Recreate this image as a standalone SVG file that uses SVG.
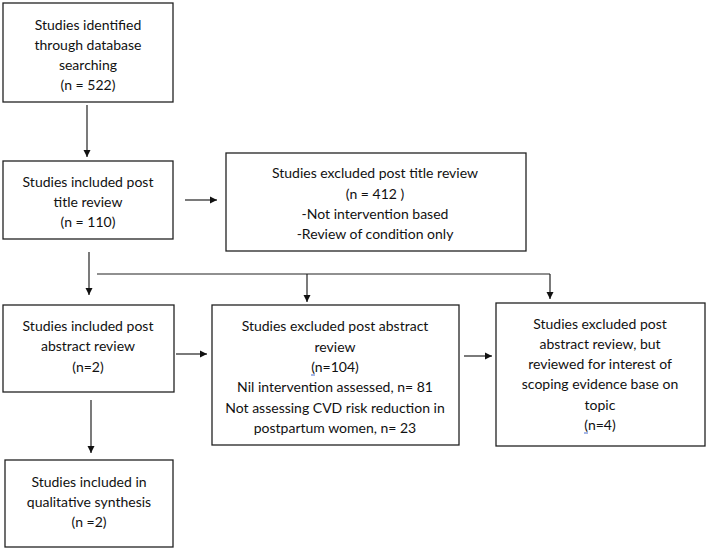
<svg xmlns="http://www.w3.org/2000/svg" width="708" height="551" viewBox="0 0 708 551">
<style>
.box{fill:#fff;stroke:#222;stroke-width:1.3}
.t{font-family:Lato,"Liberation Sans",sans-serif;font-size:14px;fill:#111;text-anchor:middle}
.c{stroke:#222;stroke-width:1.2;fill:none}
</style>
<defs>
<marker id="ah" markerWidth="8" markerHeight="8" refX="7" refY="4" orient="auto" markerUnits="userSpaceOnUse">
<path d="M0,0.5 L7,4 L0,7.5 Z" fill="#111"/>
</marker>
</defs>
<rect width="708" height="551" fill="#fff"/>
<g id="connectors">
<line class="c" x1="87" y1="105" x2="87" y2="157" marker-end="url(#ah)"/>
<line class="c" x1="185" y1="200" x2="217" y2="200" marker-end="url(#ah)"/>
<line class="c" x1="89" y1="252" x2="89" y2="295" marker-end="url(#ah)"/>
<line class="c" x1="97" y1="274" x2="550" y2="274"/>
<line class="c" x1="307" y1="274" x2="307" y2="302" marker-end="url(#ah)"/>
<line class="c" x1="550" y1="274" x2="550" y2="299" marker-end="url(#ah)"/>
<line class="c" x1="176" y1="354" x2="207" y2="354" marker-end="url(#ah)"/>
<line class="c" x1="464" y1="356" x2="492" y2="356" marker-end="url(#ah)"/>
<line class="c" x1="91" y1="400" x2="91" y2="453" marker-end="url(#ah)"/>
</g>
<g id="identified">
<rect class="box" x="3" y="3" width="170" height="99"/>
<text class="t" x="88" y="30">Studies identified</text>
<text class="t" x="88" y="50">through database</text>
<text class="t" x="88" y="70">searching</text>
<text class="t" x="88" y="90">(n = 522)</text>
</g>
<g id="title-included">
<rect class="box" x="3" y="161" width="170" height="78"/>
<text class="t" x="88" y="187">Studies included post</text>
<text class="t" x="88" y="207">title review</text>
<text class="t" x="88" y="227">(n = 110)</text>
</g>
<g id="title-excluded">
<rect class="box" x="226" y="153" width="300" height="98"/>
<text class="t" x="375" y="178">Studies excluded post title review</text>
<text class="t" x="375" y="199">(n = 412 )</text>
<text class="t" x="375" y="219">-Not intervention based</text>
<text class="t" x="375" y="239">-Review of condition only</text>
</g>
<g id="abstract-included">
<rect class="box" x="3" y="305" width="171" height="87"/>
<text class="t" x="88" y="331">Studies included post</text>
<text class="t" x="88" y="351">abstract review</text>
<text class="t" x="88" y="372">(n=2)</text>
</g>
<g id="abstract-excluded">
<rect class="box" x="212" y="305" width="247" height="140"/>
<text class="t" x="335" y="331">Studies excluded post abstract</text>
<text class="t" x="335" y="352">review</text>
<text class="t" x="335" y="372">(n=104)</text>
<text class="t" x="335" y="392">Nil intervention assessed, n= 81</text>
<text class="t" x="335" y="413">Not assessing CVD risk reduction in</text>
<text class="t" x="335" y="433">postpartum women, n= 23</text>
<line x1="311" y1="375" x2="315" y2="375" stroke="#4a6fd0" stroke-width="1"/>
</g>
<g id="abstract-excluded-reviewed">
<rect class="box" x="496" y="303" width="209" height="143"/>
<text class="t" x="600" y="329">Studies excluded post</text>
<text class="t" x="600" y="349">abstract review, but</text>
<text class="t" x="600" y="369">reviewed for interest of</text>
<text class="t" x="600" y="389">scoping evidence base on</text>
<text class="t" x="600" y="410">topic</text>
<text class="t" x="600" y="430">(n=4)</text>
<line x1="584" y1="433" x2="588" y2="433" stroke="#4a6fd0" stroke-width="1"/>
</g>
<g id="synthesis">
<rect class="box" x="5" y="460" width="168" height="87"/>
<text class="t" x="89" y="487">Studies included in</text>
<text class="t" x="89" y="507">qualitative synthesis</text>
<text class="t" x="89" y="527">(n =2)</text>
</g>
</svg>
